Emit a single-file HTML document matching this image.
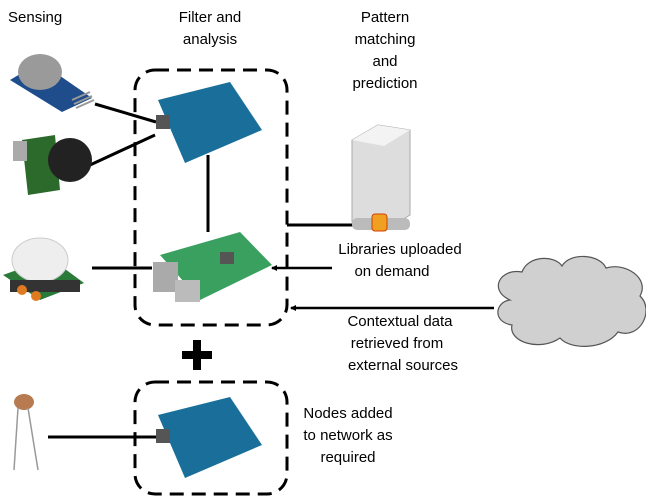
<!DOCTYPE html>
<html><head><meta charset="utf-8"><style>
body{margin:0;background:#fff;width:646px;height:502px;overflow:hidden}
svg{display:block}
text{font-family:"Liberation Sans",sans-serif;font-size:15px;fill:#000}
</style></head><body>
<svg width="646" height="502" viewBox="0 0 646 502">
<defs><marker id="ah" markerWidth="6" markerHeight="6" refX="5" refY="3" orient="auto" markerUnits="userSpaceOnUse"><path d="M0,0 L6,3 L0,6 z" fill="#000"/></marker></defs>
<text x="8" y="22">Sensing</text>
<text x="210" y="22" text-anchor="middle">Filter and</text>
<text x="210" y="44" text-anchor="middle">analysis</text>
<text x="385" y="22" text-anchor="middle">Pattern</text>
<text x="385" y="44" text-anchor="middle">matching</text>
<text x="385" y="66" text-anchor="middle">and</text>
<text x="385" y="88" text-anchor="middle">prediction</text>
<rect x="135" y="70" width="152" height="255" rx="20" fill="none" stroke="#000" stroke-width="3" stroke-dasharray="14,8"/>
<rect x="135" y="382" width="152" height="112" rx="20" fill="none" stroke="#000" stroke-width="3" stroke-dasharray="14,8"/>
<rect x="193" y="340" width="8" height="30" fill="#000"/><rect x="182" y="351" width="30" height="8" fill="#000"/>
<g stroke="#000" stroke-width="3">
<line x1="95" y1="104" x2="156" y2="122"/>
<line x1="90" y1="165" x2="155" y2="135"/>
<line x1="92" y1="268" x2="152" y2="268"/>
<line x1="208" y1="155" x2="208" y2="232"/>
<line x1="48" y1="437" x2="158" y2="437"/>
<line x1="287" y1="225" x2="354" y2="225"/>
<line x1="332" y1="268" x2="272" y2="268" marker-end="url(#ah)" stroke-width="2.5"/>
<line x1="494" y1="308" x2="291" y2="308" marker-end="url(#ah)" stroke-width="2.5"/>
</g>
<polygon points="10,80 40,62 92,98 62,112" fill="#1f4d8c"/>
<ellipse cx="40" cy="72" rx="22" ry="18" fill="#9a9a9a"/>
<g stroke="#999" stroke-width="2"><line x1="72" y1="100" x2="90" y2="92"/><line x1="74" y1="104" x2="92" y2="96"/><line x1="76" y1="108" x2="94" y2="100"/></g>
<polygon points="22,140 55,135 60,190 28,195" fill="#2c6a2c"/>
<rect x="13" y="141" width="14" height="20" fill="#aaa"/>
<circle cx="70" cy="160" r="22" fill="#222"/>
<polygon points="3,275 50,258 84,283 40,300" fill="#2a7a3a"/>
<ellipse cx="40" cy="260" rx="28" ry="22" fill="#eee" stroke="#ccc"/>
<rect x="10" y="280" width="70" height="12" fill="#333"/>
<circle cx="22" cy="290" r="5" fill="#e07a20"/><circle cx="36" cy="296" r="5" fill="#e07a20"/>
<ellipse cx="24" cy="402" rx="10" ry="8" fill="#b87a50"/>
<g stroke="#999" stroke-width="1.5"><line x1="18" y1="408" x2="14" y2="470"/><line x1="28" y1="408" x2="38" y2="470"/></g>
<polygon points="158,100 230,82 262,130 185,163" fill="#1a6f9a"/>
<rect x="156" y="115" width="14" height="14" fill="#555"/>
<polygon points="158,415 230,397 262,445 185,478" fill="#1a6f9a"/>
<rect x="156" y="429" width="14" height="14" fill="#555"/>
<polygon points="160,255 240,232 272,265 200,300" fill="#3aa060"/>
<rect x="153" y="262" width="25" height="30" fill="#aaa"/>
<rect x="175" y="280" width="25" height="22" fill="#bbb"/>
<rect x="220" y="252" width="14" height="12" fill="#555"/>
<polygon points="352,140 378,125 410,130 410,215 385,230 352,222" fill="#ddd" stroke="#aaa"/>
<polygon points="352,140 378,125 410,130 384,146" fill="#f3f3f3"/>
<rect x="352" y="218" width="58" height="12" rx="5" fill="#bbb"/>
<rect x="372" y="214" width="15" height="17" rx="3" fill="#f0a020" stroke="#d04000"/>
<path d="M510,300 C488,290 500,268 522,272 C528,255 555,255 562,266 C570,252 600,254 606,268 C625,262 650,278 640,296 C655,310 640,340 618,332 C605,350 570,350 560,338 C540,352 508,342 512,325 C492,322 495,302 510,300 Z" fill="#d0d0d0" stroke="#555" stroke-width="1.2"/>
<text x="400" y="254" text-anchor="middle">Libraries uploaded</text>
<text x="392" y="276" text-anchor="middle">on demand</text>
<text x="400" y="326" text-anchor="middle">Contextual data</text>
<text x="397" y="348" text-anchor="middle">retrieved from</text>
<text x="403" y="370" text-anchor="middle">external sources</text>
<text x="348" y="418" text-anchor="middle">Nodes added</text>
<text x="348" y="440" text-anchor="middle">to network as</text>
<text x="348" y="462" text-anchor="middle">required</text>
</svg>
</body></html>
